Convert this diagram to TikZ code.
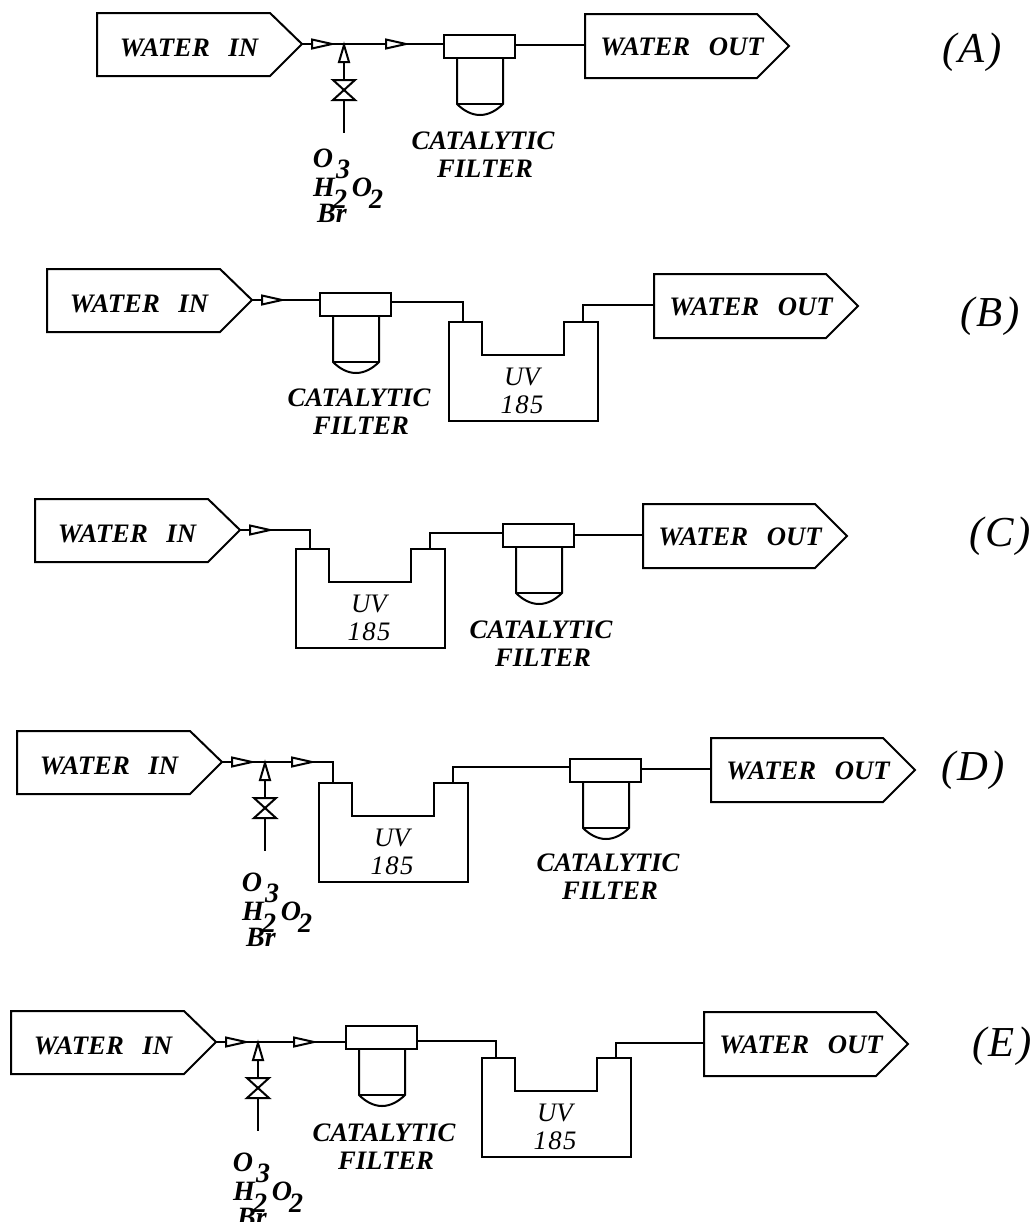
\documentclass[tikz,border=0pt]{standalone}
\usepackage{fontspec}
\setmainfont{Liberation Serif}
\tikzset{x=0.75pt,y=-0.75pt,
  pipe/.style={line width=1.5pt,line join=miter},
  open/.style={pipe,fill=white},
  lab/.style={inner sep=0pt,font=\fontsize{20}{20}\selectfont\bfseries\itshape},
  uvlab/.style={inner sep=0pt,font=\fontsize{20}{20}\selectfont\itshape},
  tag/.style={inner sep=0pt,font=\fontsize{32}{32}\selectfont\itshape},
  chem/.style={inner sep=0pt,font=\fontsize{21}{21}\selectfont\bfseries\itshape}}
\newcommand\sourcebox[3]{% name, tip x, tip y
  \coordinate (#1-tip) at (#2,#3);
  \draw[pipe] (#2,#3) -- (#2-32,#3-31) -- (#2-205,#3-31) -- (#2-205,#3+32) -- (#2-32,#3+32) -- cycle;
  \node[lab] (#1-text) at (#2-113,#3+4) {WATER\hspace{0.7em}IN};}
\newcommand\sinkbox[3]{% name, left x, tip y
  \coordinate (#1-in) at (#2,#3-1);
  \draw[pipe] (#2,#3-32) -- (#2+172,#3-32) -- (#2+204,#3) -- (#2+172,#3+32) -- (#2,#3+32) -- cycle;
  \node[lab] (#1-text) at (#2+97,#3+1) {WATER\hspace{0.7em}OUT};}
\newcommand\filterunit[7]{% name, left x, top y, left port y, right port y, label x, label y
  \coordinate (#1-l) at (#2,#4);
  \coordinate (#1-r) at (#2+71,#5);
  \draw[pipe] (#2,#3) rectangle (#2+71,#3+23);
  \draw[pipe] (#2+13,#3+23) -- (#2+13,#3+69) .. controls (#2+20,#3+76) and (#2+28,#3+80) .. (#2+36,#3+80) .. controls (#2+44,#3+80) and (#2+52,#3+76) .. (#2+59,#3+69) -- (#2+59,#3+23);
  \draw[pipe] (#2+13,#3+69) -- (#2+59,#3+69);
  \node[lab] (#1-c) at (#6,#7) {CATALYTIC};
  \node[lab] (#1-f) at (#6+2,#7+28) {FILTER};}
\newcommand\uvunit[3]{% name, left x, top y
  \coordinate (#1-l) at (#2+14,#3);
  \coordinate (#1-r) at (#2+134,#3);
  \draw[pipe] (#2,#3) -- (#2+33,#3) -- (#2+33,#3+33) -- (#2+115,#3+33) -- (#2+115,#3) -- (#2+149,#3) -- (#2+149,#3+99) -- (#2,#3+99) -- cycle;
  \node[uvlab] (#1-u) at (#2+73,#3+55) {UV};
  \node[uvlab] (#1-n) at (#2+73,#3+83) {1\kern1pt8\kern1pt5};}
\newcommand\flow[2]{\draw[open] (#1,#2-4.5) -- (#1+20,#2) -- (#1,#2+4.5) -- cycle;}
\newcommand\dosing[5]{% name, tee x, tee y, O x, O y
  \coordinate (#1-tee) at (#2,#3);
  \coordinate (#1-end) at (#2,#3+89);
  \draw[pipe] (#1-tee) -- (#1-end);
  \draw[open] (#2,#3+1) -- (#2+5,#3+18) -- (#2-5,#3+18) -- cycle;
  \draw[open] (#2-11,#3+36) -- (#2+11,#3+36) -- (#2-11,#3+56) -- (#2+11,#3+56) -- cycle;
  \node[chem] (#1-o) at (#4,#5) {O};
  \node[chem] (#1-t) at (#4+20,#5+11) {3};
  \node[chem] (#1-h) at (#4+1,#5+29) {H};
  \node[chem] (#1-w) at (#4+17,#5+41) {2};
  \node[chem] (#1-p) at (#4+39,#5+29) {O};
  \node[chem] (#1-q) at (#4+53,#5+41) {2};
  \node[chem] (#1-b) at (#4+9,#5+55) {Br};}
\newcommand\tagtext[1]{(\kern1.5pt #1\kern1.5pt)}
\begin{document}
\begin{tikzpicture}
\useasboundingbox (0,0) rectangle (1034,1222);
\clip (0,0) rectangle (1034,1222);
% A
\sourcebox{ai}{302}{44}
\filterunit{af}{444}{35}{44}{45}{483}{141}
\sinkbox{ao}{585}{46}
\draw[pipe] (ai-tip) -- (af-l);
\draw[pipe] (af-r) -- (ao-in);
\flow{312}{44}\flow{386}{44}
\dosing{ad}{344}{44}{323}{158}
\node[tag] (ta) at (972,52) {\tagtext{A}};
% B
\sourcebox{bi}{252}{300}
\filterunit{bf}{320}{293}{300}{302}{359}{398}
\uvunit{bu}{449}{322}
\sinkbox{bo}{654}{306}
\draw[pipe] (bi-tip) -- (bf-l);
\draw[pipe] (bf-r) -| (bu-l);
\draw[pipe] (bu-r) |- (bo-in);
\flow{262}{300}
\node[tag] (tb) at (990,316) {\tagtext{B}};
% C
\sourcebox{ci}{240}{530}
\uvunit{cu}{296}{549}
\filterunit{cf}{503}{524}{533}{535}{541}{630}
\sinkbox{co}{643}{536}
\draw[pipe] (ci-tip) -| (cu-l);
\draw[pipe] (cu-r) |- (cf-l);
\draw[pipe] (cf-r) -- (co-in);
\flow{250}{530}
\node[tag] (tc) at (1000,536) {\tagtext{C}};
% D
\sourcebox{di}{222}{762}
\uvunit{du}{319}{783}
\filterunit{df}{570}{759}{767}{769}{608}{863}
\sinkbox{do}{711}{770}
\draw[pipe] (di-tip) -| (du-l);
\draw[pipe] (du-r) |- (df-l);
\draw[pipe] (df-r) -- (do-in);
\flow{232}{762}\flow{292}{762}
\dosing{dd}{265}{762}{252}{882}
\node[tag] (td) at (973,770) {\tagtext{D}};
% E
\sourcebox{ei}{216}{1042}
\filterunit{ef}{346}{1026}{1042}{1041}{384}{1133}
\uvunit{eu}{482}{1058}
\sinkbox{eo}{704}{1044}
\draw[pipe] (ei-tip) -- (ef-l);
\draw[pipe] (ef-r) -| (eu-l);
\draw[pipe] (eu-r) |- (eo-in);
\flow{226}{1042}\flow{294}{1042}
\dosing{ed}{258}{1042}{243}{1162}
\node[tag] (te) at (1002,1046) {\tagtext{E}};
\end{tikzpicture}
\end{document}
